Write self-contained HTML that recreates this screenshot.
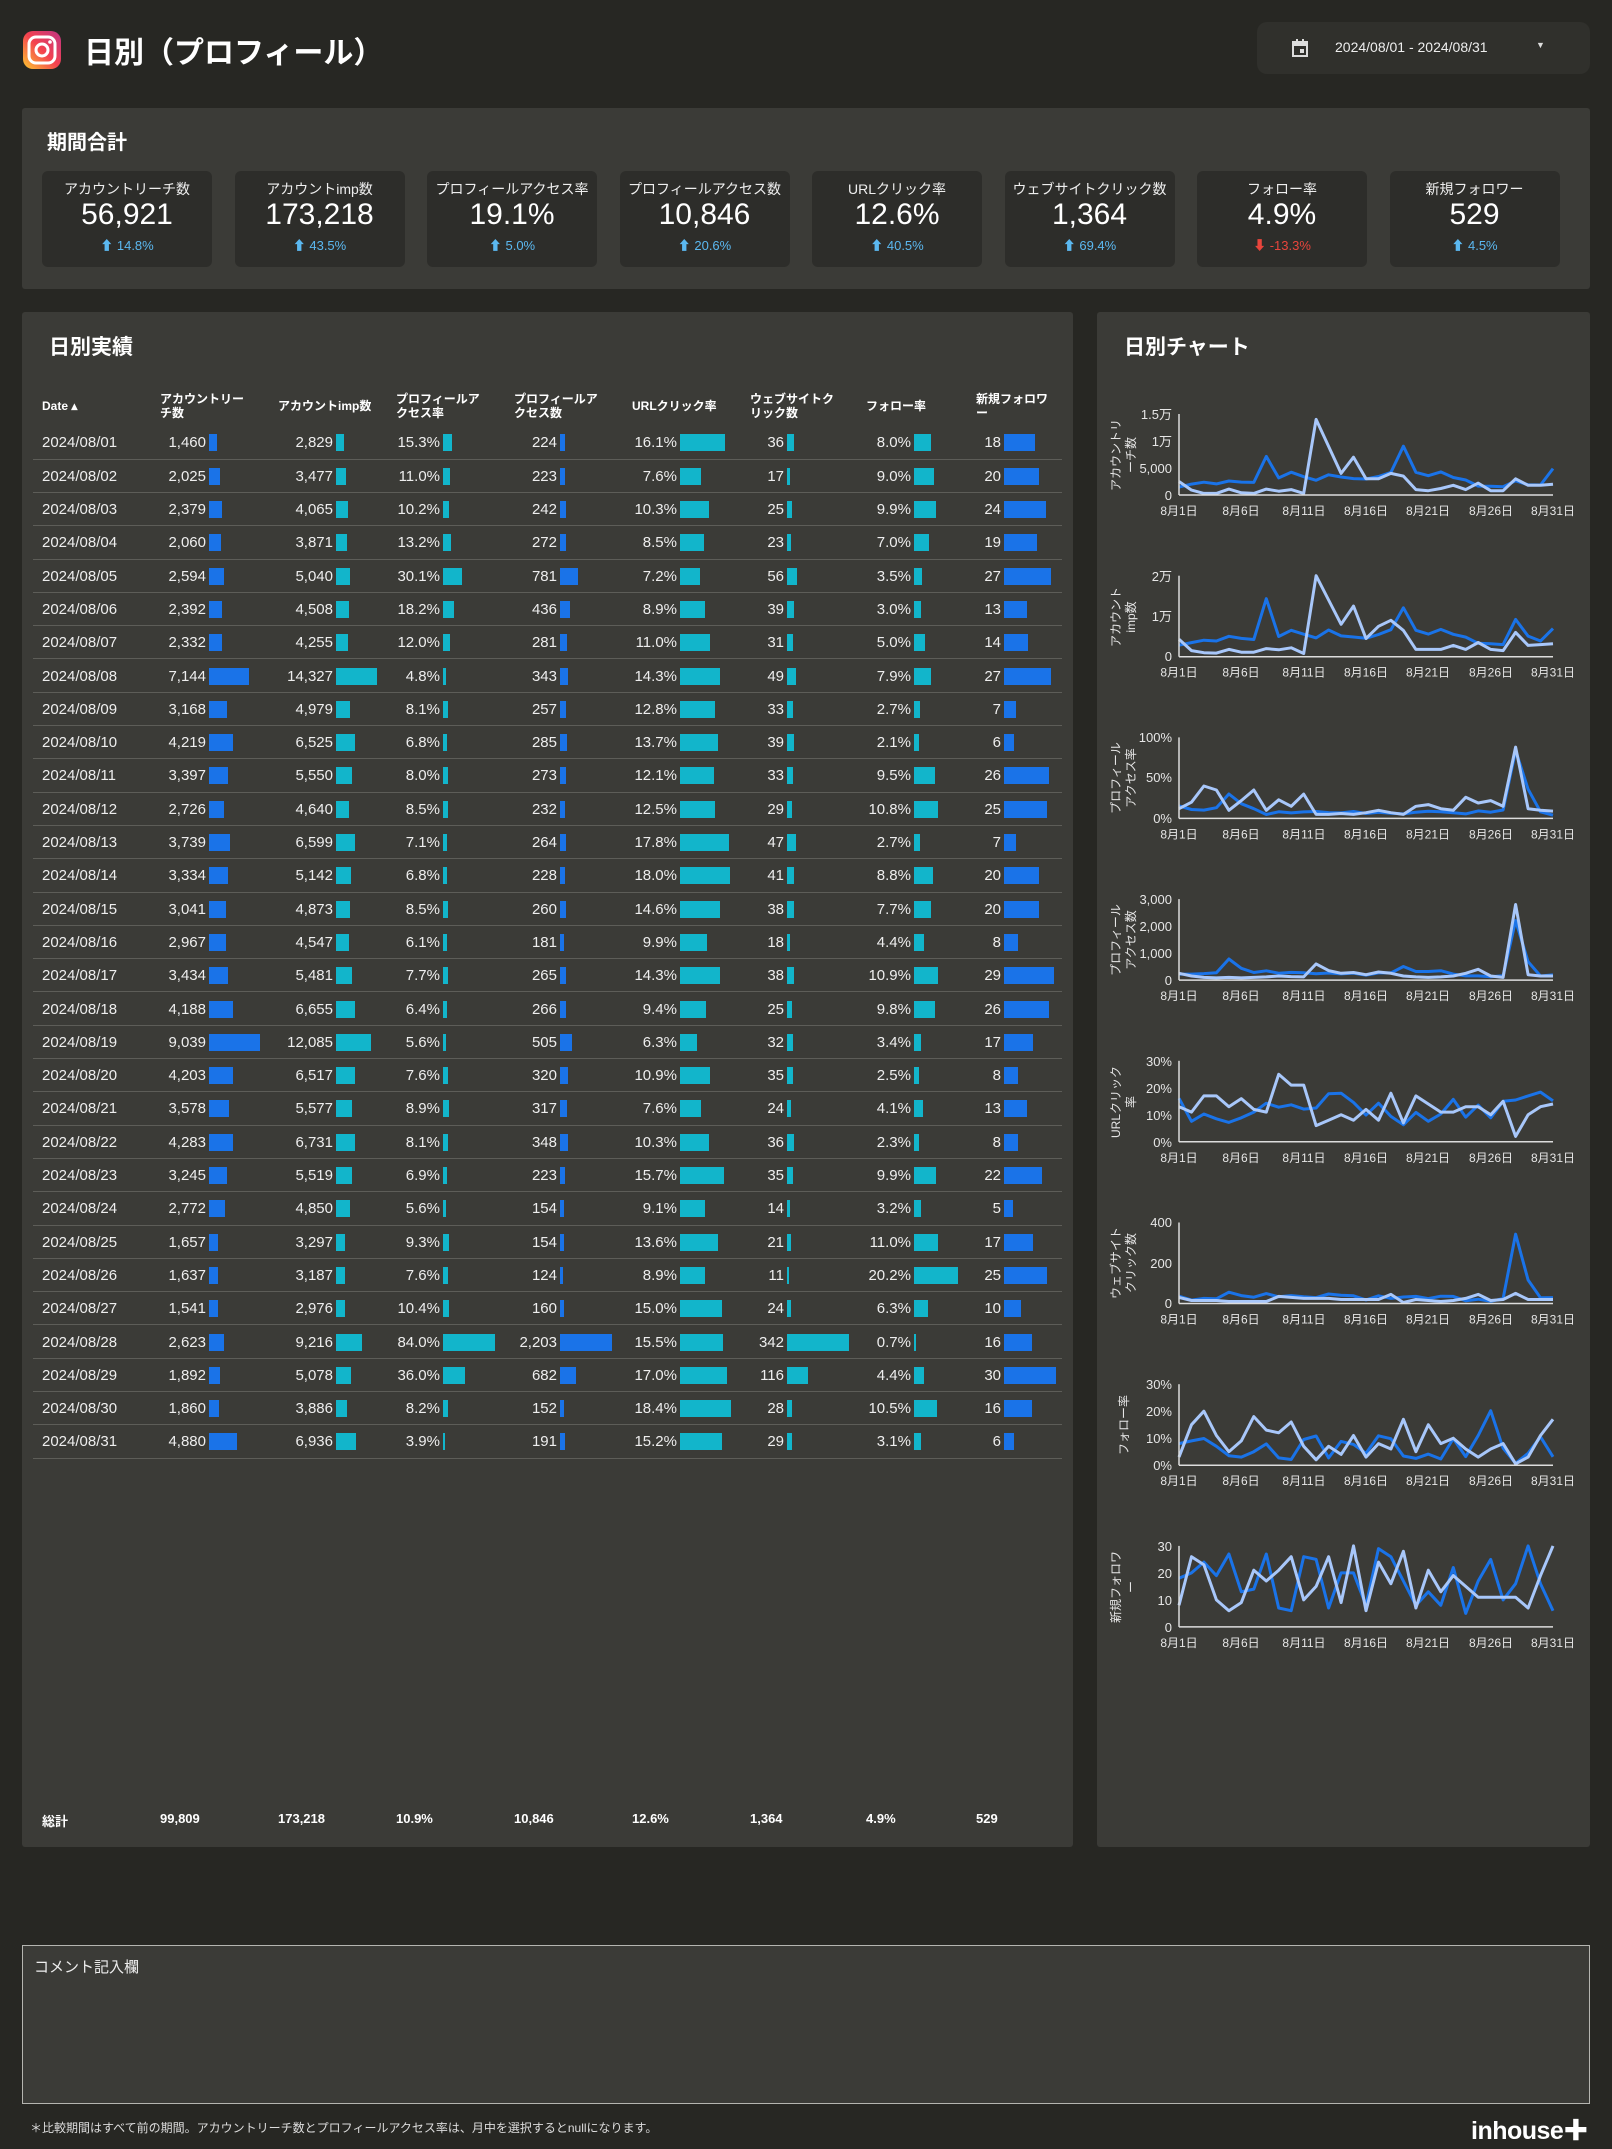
<!DOCTYPE html>
<html><head><meta charset="utf-8">
<style>
*{margin:0;padding:0;box-sizing:border-box}
body{width:1612px;height:2149px;background:#272723;font-family:"Liberation Sans","Noto Sans CJK JP",sans-serif;color:#fff;position:relative;overflow:hidden}
.abs{position:absolute}
.panel{position:absolute;background:#3b3b37;border-radius:3px}
.card{position:absolute;top:171px;width:170px;height:96px;background:#2d2d2a;border-radius:6px;text-align:center}
.card .l{position:absolute;top:8px;left:0;right:0;font-size:14px;color:#eee}
.card .v{position:absolute;top:27px;left:0;right:0;font-size:30px;color:#fff}
.card .c{position:absolute;top:64px;left:0;right:0;font-size:13px;color:#5bb8f0}
.card .c.red{color:#e8453c}
.h{position:absolute;font-weight:bold;font-size:12px;line-height:14px;width:100px;color:#fff}
.r{position:absolute;left:33px;width:1029px;height:33.3px;border-bottom:1px solid #5d5d58;font-size:15px;color:#eee}
.r span{position:absolute;top:8px;width:110px;text-align:right;line-height:17px}
.r span.d{text-align:left;left:9px}
.bar{position:absolute;top:8px;height:17px}
.tot{position:absolute;top:1811px;font-weight:bold;font-size:13px}
</style></head><body>
<svg class="abs" style="left:22px;top:30px" width="40" height="40" viewBox="0 0 40 40">
<defs><linearGradient id="ig" x1="0" y1="1" x2="1" y2="0"><stop offset="0" stop-color="#fdc830"/><stop offset=".5" stop-color="#f3424f"/><stop offset="1" stop-color="#c13584"/></linearGradient></defs>
<rect x="1" y="1" width="38" height="38" rx="10" fill="url(#ig)"/>
<rect x="7" y="7" width="26" height="26" rx="7" fill="none" stroke="#fff" stroke-width="3"/>
<circle cx="20" cy="20" r="6" fill="none" stroke="#fff" stroke-width="3"/><circle cx="28" cy="12" r="1.8" fill="#fff"/></svg>
<div class="abs" style="left:84px;top:28px;font-size:30px;font-weight:bold">日別（プロフィール）</div>
<div class="abs" style="left:1257px;top:22px;width:333px;height:52px;background:#30302c;border-radius:10px"></div>
<svg class="abs" style="left:1292px;top:39px" width="16" height="18"><rect x="1" y="3" width="14" height="14" fill="none" stroke="#ddd" stroke-width="2"/><rect x="1" y="3" width="14" height="4" fill="#ddd"/><rect x="4" y="0" width="2" height="4" fill="#ddd"/><rect x="10" y="0" width="2" height="4" fill="#ddd"/><rect x="8" y="10" width="4" height="4" fill="#ddd"/></svg>
<div class="abs" style="left:1335px;top:39px;font-size:14px;color:#eee">2024/08/01 - 2024/08/31</div>
<div class="abs" style="left:1536px;top:40px;font-size:9px;color:#ddd">▼</div>

<div class="panel" style="left:22px;top:108px;width:1568px;height:181px"></div>
<div class="abs" style="left:47px;top:126px;font-size:20px;font-weight:bold">期間合計</div>
<div class="card" style="left:42px"><div class="l">アカウントリーチ数</div><div class="v">56,921</div><div class="c">⬆ 14.8%</div></div>
<div class="card" style="left:234.5px"><div class="l">アカウントimp数</div><div class="v">173,218</div><div class="c">⬆ 43.5%</div></div>
<div class="card" style="left:427px"><div class="l">プロフィールアクセス率</div><div class="v">19.1%</div><div class="c">⬆ 5.0%</div></div>
<div class="card" style="left:619.5px"><div class="l">プロフィールアクセス数</div><div class="v">10,846</div><div class="c">⬆ 20.6%</div></div>
<div class="card" style="left:812px"><div class="l">URLクリック率</div><div class="v">12.6%</div><div class="c">⬆ 40.5%</div></div>
<div class="card" style="left:1004.5px"><div class="l">ウェブサイトクリック数</div><div class="v">1,364</div><div class="c">⬆ 69.4%</div></div>
<div class="card" style="left:1197px"><div class="l">フォロー率</div><div class="v">4.9%</div><div class="c red">⬇ -13.3%</div></div>
<div class="card" style="left:1389.5px"><div class="l">新規フォロワー</div><div class="v">529</div><div class="c">⬆ 4.5%</div></div>

<div class="panel" style="left:22px;top:312px;width:1051px;height:1535px"></div>
<div class="abs" style="left:49px;top:331px;font-size:21px;font-weight:bold">日別実績</div>
<div class="h" style="left:42px;top:399px">Date ▴</div>
<div class="h" style="left:160px;top:392px">アカウントリー<br>チ数</div>
<div class="h" style="left:278px;top:399px">アカウントimp数</div>
<div class="h" style="left:396px;top:392px">プロフィールア<br>クセス率</div>
<div class="h" style="left:514px;top:392px">プロフィールア<br>クセス数</div>
<div class="h" style="left:632px;top:399px">URLクリック率</div>
<div class="h" style="left:750px;top:392px">ウェブサイトク<br>リック数</div>
<div class="h" style="left:866px;top:399px">フォロー率</div>
<div class="h" style="left:976px;top:392px">新規フォロワ<br>ー</div>
<div id="rows">
<div class="r"><span class="d">2024/08/01</span><span>1,460</span><span>2,829</span><span>15.3%</span><span>224</span><span>16.1%</span><span>36</span><span>8.0%</span><span>18</span></div>
<div class="r"><span class="d">2024/08/02</span><span>2,025</span><span>3,477</span><span>11.0%</span><span>223</span><span>7.6%</span><span>17</span><span>9.0%</span><span>20</span></div>
<div class="r"><span class="d">2024/08/03</span><span>2,379</span><span>4,065</span><span>10.2%</span><span>242</span><span>10.3%</span><span>25</span><span>9.9%</span><span>24</span></div>
<div class="r"><span class="d">2024/08/04</span><span>2,060</span><span>3,871</span><span>13.2%</span><span>272</span><span>8.5%</span><span>23</span><span>7.0%</span><span>19</span></div>
<div class="r"><span class="d">2024/08/05</span><span>2,594</span><span>5,040</span><span>30.1%</span><span>781</span><span>7.2%</span><span>56</span><span>3.5%</span><span>27</span></div>
<div class="r"><span class="d">2024/08/06</span><span>2,392</span><span>4,508</span><span>18.2%</span><span>436</span><span>8.9%</span><span>39</span><span>3.0%</span><span>13</span></div>
<div class="r"><span class="d">2024/08/07</span><span>2,332</span><span>4,255</span><span>12.0%</span><span>281</span><span>11.0%</span><span>31</span><span>5.0%</span><span>14</span></div>
<div class="r"><span class="d">2024/08/08</span><span>7,144</span><span>14,327</span><span>4.8%</span><span>343</span><span>14.3%</span><span>49</span><span>7.9%</span><span>27</span></div>
<div class="r"><span class="d">2024/08/09</span><span>3,168</span><span>4,979</span><span>8.1%</span><span>257</span><span>12.8%</span><span>33</span><span>2.7%</span><span>7</span></div>
<div class="r"><span class="d">2024/08/10</span><span>4,219</span><span>6,525</span><span>6.8%</span><span>285</span><span>13.7%</span><span>39</span><span>2.1%</span><span>6</span></div>
<div class="r"><span class="d">2024/08/11</span><span>3,397</span><span>5,550</span><span>8.0%</span><span>273</span><span>12.1%</span><span>33</span><span>9.5%</span><span>26</span></div>
<div class="r"><span class="d">2024/08/12</span><span>2,726</span><span>4,640</span><span>8.5%</span><span>232</span><span>12.5%</span><span>29</span><span>10.8%</span><span>25</span></div>
<div class="r"><span class="d">2024/08/13</span><span>3,739</span><span>6,599</span><span>7.1%</span><span>264</span><span>17.8%</span><span>47</span><span>2.7%</span><span>7</span></div>
<div class="r"><span class="d">2024/08/14</span><span>3,334</span><span>5,142</span><span>6.8%</span><span>228</span><span>18.0%</span><span>41</span><span>8.8%</span><span>20</span></div>
<div class="r"><span class="d">2024/08/15</span><span>3,041</span><span>4,873</span><span>8.5%</span><span>260</span><span>14.6%</span><span>38</span><span>7.7%</span><span>20</span></div>
<div class="r"><span class="d">2024/08/16</span><span>2,967</span><span>4,547</span><span>6.1%</span><span>181</span><span>9.9%</span><span>18</span><span>4.4%</span><span>8</span></div>
<div class="r"><span class="d">2024/08/17</span><span>3,434</span><span>5,481</span><span>7.7%</span><span>265</span><span>14.3%</span><span>38</span><span>10.9%</span><span>29</span></div>
<div class="r"><span class="d">2024/08/18</span><span>4,188</span><span>6,655</span><span>6.4%</span><span>266</span><span>9.4%</span><span>25</span><span>9.8%</span><span>26</span></div>
<div class="r"><span class="d">2024/08/19</span><span>9,039</span><span>12,085</span><span>5.6%</span><span>505</span><span>6.3%</span><span>32</span><span>3.4%</span><span>17</span></div>
<div class="r"><span class="d">2024/08/20</span><span>4,203</span><span>6,517</span><span>7.6%</span><span>320</span><span>10.9%</span><span>35</span><span>2.5%</span><span>8</span></div>
<div class="r"><span class="d">2024/08/21</span><span>3,578</span><span>5,577</span><span>8.9%</span><span>317</span><span>7.6%</span><span>24</span><span>4.1%</span><span>13</span></div>
<div class="r"><span class="d">2024/08/22</span><span>4,283</span><span>6,731</span><span>8.1%</span><span>348</span><span>10.3%</span><span>36</span><span>2.3%</span><span>8</span></div>
<div class="r"><span class="d">2024/08/23</span><span>3,245</span><span>5,519</span><span>6.9%</span><span>223</span><span>15.7%</span><span>35</span><span>9.9%</span><span>22</span></div>
<div class="r"><span class="d">2024/08/24</span><span>2,772</span><span>4,850</span><span>5.6%</span><span>154</span><span>9.1%</span><span>14</span><span>3.2%</span><span>5</span></div>
<div class="r"><span class="d">2024/08/25</span><span>1,657</span><span>3,297</span><span>9.3%</span><span>154</span><span>13.6%</span><span>21</span><span>11.0%</span><span>17</span></div>
<div class="r"><span class="d">2024/08/26</span><span>1,637</span><span>3,187</span><span>7.6%</span><span>124</span><span>8.9%</span><span>11</span><span>20.2%</span><span>25</span></div>
<div class="r"><span class="d">2024/08/27</span><span>1,541</span><span>2,976</span><span>10.4%</span><span>160</span><span>15.0%</span><span>24</span><span>6.3%</span><span>10</span></div>
<div class="r"><span class="d">2024/08/28</span><span>2,623</span><span>9,216</span><span>84.0%</span><span>2,203</span><span>15.5%</span><span>342</span><span>0.7%</span><span>16</span></div>
<div class="r"><span class="d">2024/08/29</span><span>1,892</span><span>5,078</span><span>36.0%</span><span>682</span><span>17.0%</span><span>116</span><span>4.4%</span><span>30</span></div>
<div class="r"><span class="d">2024/08/30</span><span>1,860</span><span>3,886</span><span>8.2%</span><span>152</span><span>18.4%</span><span>28</span><span>10.5%</span><span>16</span></div>
<div class="r"><span class="d">2024/08/31</span><span>4,880</span><span>6,936</span><span>3.9%</span><span>191</span><span>15.2%</span><span>29</span><span>3.1%</span><span>6</span></div>
</div>
<div class="tot" style="left:42px">総計</div>
<div class="tot" style="left:160px">99,809</div>
<div class="tot" style="left:278px">173,218</div>
<div class="tot" style="left:396px">10.9%</div>
<div class="tot" style="left:514px">10,846</div>
<div class="tot" style="left:632px">12.6%</div>
<div class="tot" style="left:750px">1,364</div>
<div class="tot" style="left:866px">4.9%</div>
<div class="tot" style="left:976px">529</div>

<div class="panel" style="left:1097px;top:312px;width:493px;height:1535px"></div>
<div class="abs" style="left:1124px;top:331px;font-size:21px;font-weight:bold">日別チャート</div>
<svg id="ch" class="abs" style="left:0;top:0" width="1612" height="2149" font-family="Liberation Sans, Noto Sans CJK JP, sans-serif" fill="#e6e6e6">
<g font-size="13" text-anchor="end">
<text x="1172" y="419">1.5万</text><text x="1172" y="446">1万</text><text x="1172" y="473">5,000</text><text x="1172" y="500">0</text>
<text x="1172" y="581">2万</text><text x="1172" y="621">1万</text><text x="1172" y="661">0</text>
<text x="1172" y="742">100%</text><text x="1172" y="782">50%</text><text x="1172" y="823">0%</text>
<text x="1172" y="904">3,000</text><text x="1172" y="931">2,000</text><text x="1172" y="958">1,000</text><text x="1172" y="985">0</text>
<text x="1172" y="1066">30%</text><text x="1172" y="1093">20%</text><text x="1172" y="1120">10%</text><text x="1172" y="1147">0%</text>
<text x="1172" y="1227">400</text><text x="1172" y="1268">200</text><text x="1172" y="1308">0</text>
<text x="1172" y="1389">30%</text><text x="1172" y="1416">20%</text><text x="1172" y="1443">10%</text><text x="1172" y="1470">0%</text>
<text x="1172" y="1551">30</text><text x="1172" y="1578">20</text><text x="1172" y="1605">10</text><text x="1172" y="1632">0</text>
</g>
<g font-size="12" transform="rotate(-90)" text-anchor="middle">
<text x="-455" y="1120">アカウントリ</text><text x="-455" y="1135">ーチ数</text>
<text x="-617" y="1120">アカウント</text><text x="-617" y="1135">imp数</text>
<text x="-778" y="1120">プロフィール</text><text x="-778" y="1135">アクセス率</text>
<text x="-940" y="1120">プロフィール</text><text x="-940" y="1135">アクセス数</text>
<text x="-1102" y="1120">URLクリック</text><text x="-1102" y="1135">率</text>
<text x="-1263" y="1120">ウェブサイト</text><text x="-1263" y="1135">クリック数</text>
<text x="-1425" y="1128">フォロー率</text>
<text x="-1587" y="1120">新規フォロワ</text><text x="-1587" y="1135">ー</text>
</g>
<g font-size="12" text-anchor="middle">
<g><text x="1179" y="515">8月1日</text><text x="1241" y="515">8月6日</text><text x="1304" y="515">8月11日</text><text x="1366" y="515">8月16日</text><text x="1428" y="515">8月21日</text><text x="1491" y="515">8月26日</text><text x="1553" y="515">8月31日</text></g>
<g transform="translate(0,161.7)"><text x="1179" y="515">8月1日</text><text x="1241" y="515">8月6日</text><text x="1304" y="515">8月11日</text><text x="1366" y="515">8月16日</text><text x="1428" y="515">8月21日</text><text x="1491" y="515">8月26日</text><text x="1553" y="515">8月31日</text></g>
<g transform="translate(0,323.4)"><text x="1179" y="515">8月1日</text><text x="1241" y="515">8月6日</text><text x="1304" y="515">8月11日</text><text x="1366" y="515">8月16日</text><text x="1428" y="515">8月21日</text><text x="1491" y="515">8月26日</text><text x="1553" y="515">8月31日</text></g>
<g transform="translate(0,485.1)"><text x="1179" y="515">8月1日</text><text x="1241" y="515">8月6日</text><text x="1304" y="515">8月11日</text><text x="1366" y="515">8月16日</text><text x="1428" y="515">8月21日</text><text x="1491" y="515">8月26日</text><text x="1553" y="515">8月31日</text></g>
<g transform="translate(0,646.8)"><text x="1179" y="515">8月1日</text><text x="1241" y="515">8月6日</text><text x="1304" y="515">8月11日</text><text x="1366" y="515">8月16日</text><text x="1428" y="515">8月21日</text><text x="1491" y="515">8月26日</text><text x="1553" y="515">8月31日</text></g>
<g transform="translate(0,808.5)"><text x="1179" y="515">8月1日</text><text x="1241" y="515">8月6日</text><text x="1304" y="515">8月11日</text><text x="1366" y="515">8月16日</text><text x="1428" y="515">8月21日</text><text x="1491" y="515">8月26日</text><text x="1553" y="515">8月31日</text></g>
<g transform="translate(0,970.2)"><text x="1179" y="515">8月1日</text><text x="1241" y="515">8月6日</text><text x="1304" y="515">8月11日</text><text x="1366" y="515">8月16日</text><text x="1428" y="515">8月21日</text><text x="1491" y="515">8月26日</text><text x="1553" y="515">8月31日</text></g>
<g transform="translate(0,1131.9)"><text x="1179" y="515">8月1日</text><text x="1241" y="515">8月6日</text><text x="1304" y="515">8月11日</text><text x="1366" y="515">8月16日</text><text x="1428" y="515">8月21日</text><text x="1491" y="515">8月26日</text><text x="1553" y="515">8月31日</text></g>
</g>
<g id="lines"></g>
</svg>

<div class="abs" style="left:22px;top:1945px;width:1568px;height:159px;background:#3b3b37;border:1px solid #b5b5b0"></div>
<div class="abs" style="left:34px;top:1956px;font-size:15px;color:#eee">コメント記入欄</div>
<div class="abs" style="left:30px;top:2119px;font-size:12px;color:#ddd">＊比較期間はすべて前の期間。アカウントリーチ数とプロフィールアクセス率は、月中を選択するとnullになります。</div>
<div class="abs" style="left:1471px;top:2111px;font-size:25px;font-weight:bold;color:#fff;letter-spacing:-0.5px">inhouse✚</div>

<script>
(function(){
var ends=[206,333,440,557,677,784,911,1001],maxw=[51,41,52,52,51,62,44,52],maxv=[9039,14327,84,2203,18.4,342,20.2,30];
var cols=['#1a73e8','#12b5cb','#12b5cb','#1a73e8','#12b5cb','#12b5cb','#12b5cb','#1a73e8'];
var rows=document.querySelectorAll('.r'),data=[[],[],[],[],[],[],[],[]];
rows.forEach(function(r,i){
 r.style.top=(426.4+i*33.3)+'px';
 var sp=r.querySelectorAll('span');
 for(var c=0;c<8;c++){
  var s=sp[c+1],v=parseFloat(s.textContent.replace(/[,%]/g,''));data[c].push(v);
  s.style.left=(ends[c]-33-110)+'px';
  var b=document.createElement('div');b.className='bar';
  b.style.left=(ends[c]-33+3)+'px';b.style.width=Math.max(2,v/maxv[c]*maxw[c])+'px';b.style.background=cols[c];r.appendChild(b);
 }
});
var prev=[
[2500,900,300,300,1100,400,300,1100,700,1000,300,14000,9000,4000,7000,3000,3000,4000,3500,1000,800,1200,1800,1000,2200,800,800,3000,1800,1800,2000],
[4300,1500,1000,900,1800,1100,1100,2000,1700,2200,800,20000,14000,8000,12500,4500,7500,9000,6500,1800,1800,1800,2800,1800,3500,1800,1500,6000,2800,3000,3200],
[12,20,40,35,10,22,35,10,23,15,30,5,5,6,5,7,10,7,5,15,17,12,10,26,19,22,15,88,12,10,9],
[250,150,100,80,100,80,100,120,150,130,120,600,350,250,280,200,300,250,150,120,100,120,150,250,400,150,100,2800,200,150,150],
[13,11,17,17,13,16,12,11,25,21,21,6,8,10,8,12,8,18,7,17,14,11,11,13,13,10,15,2,10,13,14],
[30,15,15,15,10,10,10,10,35,30,25,25,25,20,20,20,20,45,5,20,15,10,15,25,45,15,20,50,20,20,20],
[3,15,20,11,5,9,18,13,12,16,7,2,7,4,11,3,8,6,17,5,15,8,10,6,3,6,8,0.5,3,11,17],
[8,26,23,10,6,9,21,17,21,26,10,15,26,9,30,6,24,16,28,7,21,13,19,15,11,11,11,11,7,19,30]];
var ym=[15000,20000,100,3000,30,400,30,30],h='';
function pts(a,t,b,m){return a.map(function(v,i){return (1179+i*374/30).toFixed(1)+','+(b-Math.min(v,m)/m*(b-t)).toFixed(1)}).join(' ');}
for(var k=0;k<8;k++){
 var yt=414+k*161.7,yb=495+k*161.7;
 h+='<polyline points="'+pts(data[k],yt,yb,ym[k])+'" fill="none" stroke="#1a73e8" stroke-width="3" stroke-linejoin="round"/>';
 h+='<polyline points="'+pts(prev[k],yt,yb,ym[k])+'" fill="none" stroke="#a8c7fa" stroke-width="3" stroke-linejoin="round"/>';
 h+='<line x1="1179" y1="'+yt+'" x2="1179" y2="'+yb+'" stroke="#ddd" stroke-width="1.5"/><line x1="1179" y1="'+yb+'" x2="1553" y2="'+yb+'" stroke="#ddd" stroke-width="1.5"/>';
}
document.getElementById('lines').innerHTML=h;
})();
</script>
</body></html>
